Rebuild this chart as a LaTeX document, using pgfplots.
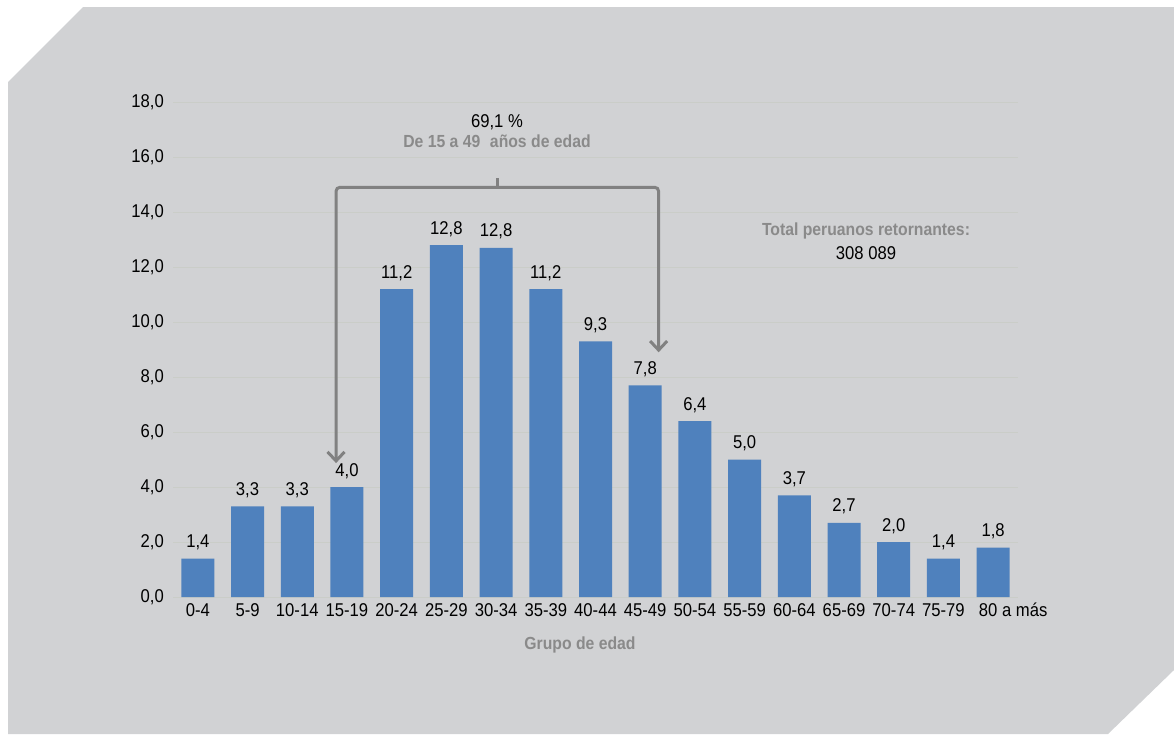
\documentclass[border=0pt]{standalone}
\usepackage{fontspec}
\setmainfont{Liberation Sans}[FakeStretch=0.9]
\usepackage{pgfplots}
\usepackage{pgfplotstable}
\pgfplotsset{compat=1.18}
\usetikzlibrary{arrows.meta}
\definecolor{bg}{HTML}{D1D2D4}
\definecolor{barblue}{HTML}{4F81BD}
\definecolor{ann}{HTML}{818181}
\definecolor{anntext}{HTML}{8A8A8A}
\definecolor{gridc}{HTML}{CACDC8}

\pgfplotstableread{
x y lab
0 1.4 1,4
1 3.3 3,3
2 3.3 3,3
3 4.0 4,0
4 11.2 11,2
5 12.8 12,8
6 12.7 12,8
7 11.2 11,2
8 9.3 9,3
9 7.7 7,8
10 6.4 6,4
11 5.0 5,0
12 3.7 3,7
13 2.7 2,7
14 2.0 2,0
15 1.4 1,4
16 1.8 1,8
}\datatable

\begin{document}
\begin{tikzpicture}
\useasboundingbox (0,0) rectangle (1174pt,-734pt);
\fill[bg] (83pt,-7pt) -- (1174pt,-7pt) -- (1174pt,-670pt) -- (1108pt,-734pt) -- (8pt,-734pt) -- (8pt,-82pt) -- cycle;
\begin{axis}[
  at={(173pt,-597pt)}, anchor=south west,
  scale only axis, width=845pt, height=495pt,
  xmin=-0.5, xmax=16.5, ymin=0, ymax=18,
  axis line style={draw=none},
  major tick length=0pt,
  ytick={0,2,...,18},
  ymajorgrids,
  grid style={gridc, line width=1pt},
  xtick={0,...,16},
  xticklabels={0-4,5-9,10-14,15-19,20-24,25-29,30-34,35-39,40-44,45-49,50-54,55-59,60-64,65-69,70-74,75-79,\hspace*{40pt}80 a más},
  tick label style={font=\fontsize{18.5}{20}\selectfont},
  yticklabel style={inner sep=0pt, anchor=east, xshift=-9pt},
  xticklabel style={inner sep=0pt, anchor=north, text height=13pt, text depth=3pt, yshift=-6pt},
  /pgf/number format/fixed,
  /pgf/number format/fixed zerofill,
  /pgf/number format/precision=1,
  /pgf/number format/use comma,
  /pgf/number format/assume math mode=true,
  ybar, bar width=33pt,
  clip=false,
]
\addplot[fill=barblue, draw=none,
  nodes near coords, point meta=explicit symbolic,
  every node near coord/.append style={anchor=base, yshift=11pt, inner sep=0pt, font=\fontsize{18.5}{20}\selectfont, text=black}]
  table[x=x, y=y, meta=lab] {\datatable};
\draw[ann, line width=3pt, rounded corners=4pt, {Straight Barb[length=9pt,width=17pt]}-{Straight Barb[length=9pt,width=17pt]}]
  (axis cs:2.78,4.87) -- (axis cs:2.78,14.9) -- (axis cs:9.27,14.9) -- (axis cs:9.27,8.9);
\draw[ann, line width=3pt] (axis cs:6.03,14.9) -- (axis cs:6.03,15.25);
\end{axis}
\node[font=\fontsize{18.5}{20}\selectfont] at (497pt,-122pt) {69,1 \%};
\node[font=\fontsize{17.5}{20}\selectfont\bfseries, text=anntext] at (497pt,-141pt) {De 15 a 49\hspace{0.3em} años de edad};
\node[font=\fontsize{17.5}{20}\selectfont\bfseries, text=anntext] at (866pt,-231pt) {Total peruanos retornantes:};
\node[font=\fontsize{18.5}{20}\selectfont] at (866pt,-253pt) {308 089};
\node[font=\fontsize{17.5}{20}\selectfont\bfseries, text=anntext] at (580pt,-645pt) {Grupo de edad};
\end{tikzpicture}
\end{document}
